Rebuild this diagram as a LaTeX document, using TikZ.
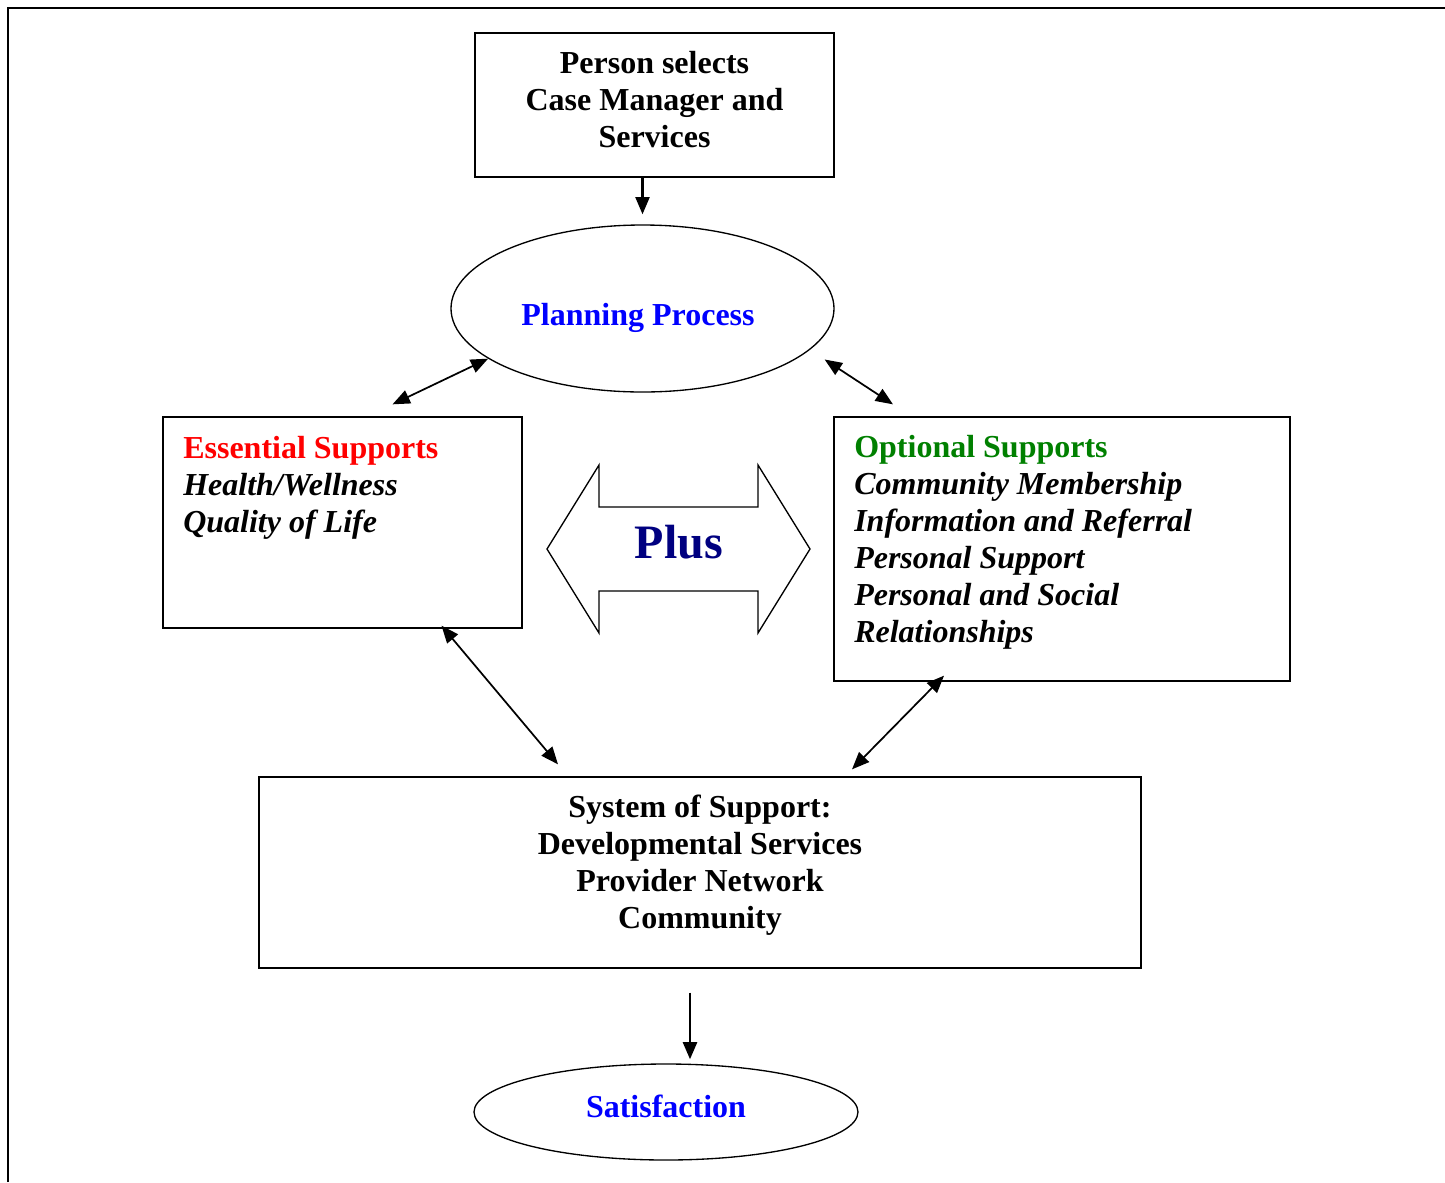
\documentclass[tikz,border=0pt]{standalone}
\usepackage{fontspec}
\setmainfont{Liberation Serif}
\usetikzlibrary{arrows.meta,shapes.geometric,calc}

\definecolor{essred}{RGB}{255,0,0}
\definecolor{optgreen}{RGB}{0,128,0}
\definecolor{planblue}{RGB}{0,0,255}
\definecolor{plusnavy}{RGB}{0,0,128}

\begin{document}
\begin{tikzpicture}[x=0.75pt,y=-0.75pt,>={Triangle[length=13pt,width=10.5pt]},
    font=\fontsize{24}{27.75}\selectfont\bfseries]
  \tikzstyle{box}=[draw,line width=1pt,inner sep=0pt,align=center]
  \tikzstyle{oval}=[draw,ellipse,line width=1pt,inner sep=0pt]
  \tikzstyle{link}=[<->,line width=1.3pt]
  \tikzstyle{list}=[anchor=north west,inner sep=0pt,align=left]

  \useasboundingbox (0,0) rectangle (1445,1182);
  \draw[line width=1.6pt] (8,1182) -- (8,8) -- (1445,8);

  \node[box,minimum width=269.25pt,minimum height=108pt] (top) at (654.5,105) {};
  \node[align=center] (toptxt) at (654.5,100)
    {Person selects\\Case Manager and\\Services};
  \node[oval,minimum width=287.25pt,minimum height=125.25pt] (plan) at (642.5,308.5) {};
  \node[text=planblue] (plantxt) at (638,318) {Planning Process};

  \node[box,minimum width=269.25pt,minimum height=158.25pt] (ess) at (342.5,522.5) {};
  \node[list] (esstxt) at (183,436)
    {\textcolor{essred}{Essential Supports}\\\itshape Health/Wellness\\\itshape Quality of Life};

  \node[box,minimum width=342pt,minimum height=198pt] (opt) at (1062,549) {};
  \node[list] (opttxt) at (854,435)
    {\textcolor{optgreen}{Optional Supports}\\\itshape Community Membership\\
     \itshape Information and Referral\\\itshape Personal Support\\
     \itshape Personal and Social\\\itshape Relationships};

  % double arrow between the two groups
  \draw[line width=1pt] (547,549) -- (599,465) -- (599,507) -- (758,507) -- (758,465)
    -- (810,549) -- (758,633) -- (758,591) -- (599,591) -- (599,633) -- cycle;
  \node[text=plusnavy,font=\fontsize{36}{40}\selectfont\bfseries] (plus) at (679,542) {Plus};

  \node[box,minimum width=661.5pt,minimum height=143.25pt] (sys) at (700,872.5) {};
  \node[align=center] (systxt) at (700,865)
    {System of Support:\\Developmental Services\\Provider Network\\Community};

  \node[oval,minimum width=288pt,minimum height=72pt] (sat) at (666,1112) {};
  \node[text=planblue] (sattxt) at (666,1106) {Satisfaction};

  \draw[->,line width=1.8pt] ($(top.south)+(-12,0)$) -- ($(plan.north)+(0,-10)$);
  \draw[link] ($(ess.north)+(50,-12)$) -- (plan.198);
  \draw[link] ($(plan.east)+(-10,51)$) -- ($(opt.north)+(-169,-12)$);
  \draw[link] ($(ess.south)+(99,-3)$) -- ($(sys.north)+(-142,-12)$);
  \draw[link] ($(opt.south)+(-118,-6)$) -- ($(sys.north)+(152,-7)$);
  \draw[->,line width=2.2pt] ($(sys.south)+(-10,24)$) -- ($(sat.north)+(24,-4)$);
\end{tikzpicture}
\end{document}
